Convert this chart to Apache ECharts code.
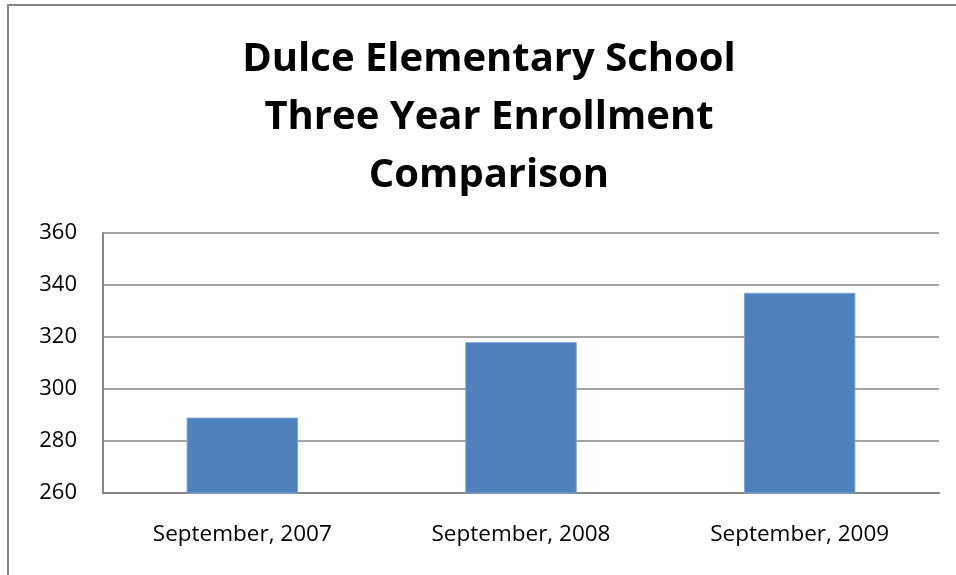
<!DOCTYPE html>
<html><head><meta charset="utf-8">
<script src="https://cdn.jsdelivr.net/npm/echarts@6/dist/echarts.min.js"></script>
<style>html,body{margin:0;padding:0;background:#fff}#c{width:956px;height:575px}</style>
</head><body><div id="c"></div>
<script>
const categories = ['September, 2007', 'September, 2008', 'September, 2009'];
const enrollment = [289, 318, 337];
const titleLines = ['Dulce Elementary School', 'Three Year Enrollment', 'Comparison'];

const chart = echarts.init(document.getElementById('c'), null, {renderer: 'canvas'});
chart.setOption({
  animation: false,
  backgroundColor: '#ffffff',
  title: {
    text: titleLines.join('\n'),
    left: 484, top: 26, textAlign: 'center',
    textStyle: {fontFamily: 'Open Sans', fontWeight: 'bold', fontSize: 40, lineHeight: 58, color: '#000'}
  },
  graphic: [{
    type: 'rect', shape: {x: 8, y: 5, width: 1000, height: 700},
    style: {fill: 'none', stroke: '#868686', lineWidth: 2}, silent: true
  }],
  grid: {left: 103, right: 17, top: 233, bottom: 82, containLabel: false},
  xAxis: {
    type: 'category', data: categories,
    axisLine: {lineStyle: {color: '#868686', width: 2}},
    axisTick: {show: false},
    axisLabel: {fontFamily: 'Open Sans', fontSize: 22.5, color: '#000', margin: 30}
  },
  yAxis: {
    type: 'value', min: 260, max: 360, interval: 20,
    axisLine: {show: true, lineStyle: {color: '#868686', width: 2}},
    axisTick: {show: false},
    splitLine: {lineStyle: {color: '#868686', width: 1.5}},
    axisLabel: {fontFamily: 'Open Sans', fontSize: 22, color: '#000', margin: 26}
  },
  series: [{
    type: 'bar', data: enrollment, barWidth: '40%',
    itemStyle: {color: '#4f81bd', borderColor: '#7ea3d4', borderWidth: 1}
  }]
});
</script></body></html>
